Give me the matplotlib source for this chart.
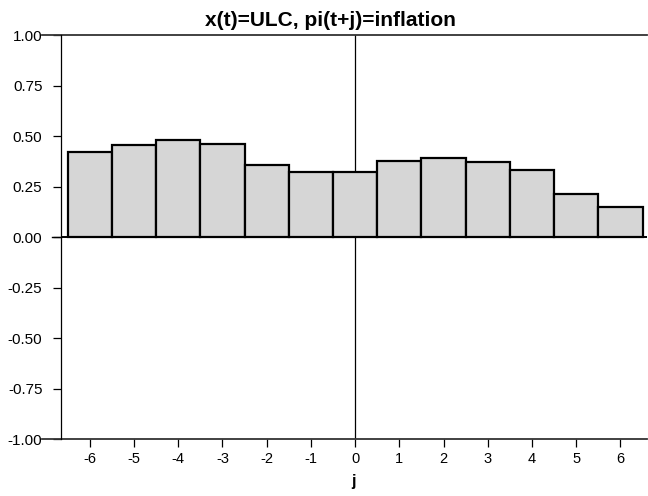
import matplotlib
matplotlib.use("Agg")
import matplotlib.pyplot as plt
from matplotlib.lines import Line2D

plt.rcParams["font.family"] = ["Liberation Sans", "DejaVu Sans"]

# cross-correlogram x(t)=ULC vs pi(t+j)=inflation
lags = [-6, -5, -4, -3, -2, -1, 0, 1, 2, 3, 4, 5, 6]
corr = [0.421, 0.457, 0.483, 0.460, 0.360, 0.322, 0.325,
        0.379, 0.395, 0.371, 0.332, 0.216, 0.149]
yticks = [-1.0, -0.75, -0.5, -0.25, 0.0, 0.25, 0.5, 0.75, 1.0]

fig = plt.figure(figsize=(6.48, 4.96), dpi=100)
ax = fig.add_axes([60.5 / 648, 1 - 439.3 / 496, (647 - 60.5) / 648, (439.3 - 35.3) / 496])

ax.bar(lags, corr, width=1.0, color="#d6d6d6", edgecolor="black", linewidth=1.6, zorder=2)
ax.axhline(0, color="black", lw=1.4, zorder=3)
ax.axvline(0, color="black", lw=0.9, zorder=1)

ax.set_xlim(-6.66, 6.6)
ax.set_ylim(-1, 1)
ax.set_xticks(lags)
ax.set_xticklabels([str(v) for v in lags])
ax.set_yticks(yticks)
ax.set_yticklabels([f"{v:.2f}" for v in yticks])
ax.tick_params(axis="y", direction="out", length=6, width=0.9, pad=7, labelsize=11)
ax.tick_params(axis="x", direction="out", length=6, width=0.9, pad=3, labelsize=10.5)

for s in ("top", "right", "bottom"):
    ax.spines[s].set_visible(False)
ax.spines["left"].set_linewidth(0.9)

# top and bottom frame lines run a bit left of the y axis
for yy in (0.0, 1.0):
    ax.add_line(Line2D([-0.032, 1.0], [yy, yy], transform=ax.transAxes,
                       color="#333333", lw=1.3, clip_on=False))
# zero line also reaches the tick
ax.add_line(Line2D([-0.015, 0.0], [0.5, 0.5], transform=ax.transAxes,
                   color="black", lw=1.0, clip_on=False))

# title is centred on the figure, not the axes
fig.text(330 / 648, 1 - 25.5 / 496, "x(t)=ULC, pi(t+j)=inflation", fontsize=15,
         fontweight="bold", ha="center", va="baseline")
ax.set_xlabel("j", fontsize=11.5, fontweight="bold", labelpad=6)

fig.savefig("out.png", dpi=100)
